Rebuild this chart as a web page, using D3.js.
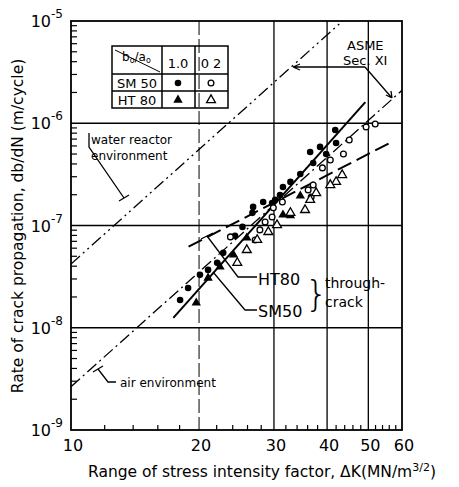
<!DOCTYPE html>
<html><head><meta charset="utf-8">
<script src="https://cdn.jsdelivr.net/npm/d3@7"></script>
<style>body{margin:0;background:#fff}svg{display:block}text{font-family:"DejaVu Sans",sans-serif;fill:#000}</style>
</head><body><svg id="c" width="459" height="487"></svg>
<script>
// ---- data ----
const xTicks = [10,20,30,40,50,60];
const xMinor = [12,14,16,18,22,24,26,28,32,34,36,38,42,44,46,48,52,54,56,58];
const yDecades = [-9,-8,-7,-6,-5];
const sm50Through = [[18.05,1.87e-8],[18.85,2.45e-8],[20.1,3.29e-8],[21.0,3.68e-8],[22.06,4.31e-8],[22.8,5.4e-8],[24.3,7.92e-8],[25.3,9.69e-8],[26.7,1.33e-7],[26.8,1.52e-7],[28.3,1.7e-7],[29.7,1.66e-7],[30.2,1.78e-7],[31.0,1.99e-7],[31.5,2.38e-7],[32.8,2.67e-7],[34.6,3.19e-7],[36.5,5.24e-7],[37.1,4.09e-7],[38.5,5.87e-7],[39.8,5.01e-7],[41.8,8.6e-7],[42.0,6.42e-7]];
const ht80Through = [[19.7,1.75e-8],[21.0,3.07e-8],[22.4,3.94e-8],[24.1,5.16e-8],[25.9,7.57e-8],[31.5,1.27e-7],[32.8,1.25e-7],[34.6,1.95e-7]];
const sm50Surface = [[51.9,9.85e-7],[49.4,9.2e-7],[45.1,6.87e-7],[43.7,5.0e-7],[40.7,4.38e-7],[39.0,3.66e-7],[37.1,2.49e-7],[36.1,2.23e-7],[36.7,1.9e-7],[31.4,1.7e-7],[29.9,1.49e-7],[29.7,1.21e-7],[28.6,1.08e-7],[27.8,9.06e-8],[27.1,7.23e-8],[23.7,7.74e-8]];
const ht80Surface = [[43.4,3.12e-7],[42.0,2.67e-7],[40.7,2.49e-7],[37.7,2.08e-7],[36.5,1.78e-7],[35.5,1.42e-7],[32.8,1.33e-7],[30.5,1.01e-7],[29.1,8.65e-8],[27.4,7.23e-8],[25.9,5.77e-8],[24.6,4.31e-8]];
const lineAir = [[10,2.65e-9],[60,2.1e-6]];
const lineWater = [[10,4.2e-8],[43.5,1e-5]];
const lineSM50 = [[17.4,1.25e-8],[49.2,1.61e-6]];
const lineHT80 = [[18.9,6.2e-8],[56.9,6.6e-7]];

// ---- scales ----
const svg = d3.select("#c");
const x = d3.scaleLog().domain([10,60]).range([71,402]);
const y = d3.scaleLog().domain([1e-9,1e-5]).range([430,21]);
const L=71,R=402,T=21,B=430;

const g = svg.append("g");
g.append("defs").append("clipPath").attr("id","clip").append("rect").attr("x",L).attr("y",T).attr("width",R-L).attr("height",B-T);

// grid
[20,30,40,50].forEach(k=>g.append("line").attr("x1",x(k)).attr("x2",x(k)).attr("y1",T).attr("y2",B).attr("stroke","#000").attr("stroke-width",k===20?1:1.3).attr("stroke-dasharray",k===20?"14,4":null));
[-8,-7,-6].forEach(d=>g.append("line").attr("x1",L).attr("x2",R).attr("y1",y(Math.pow(10,d))).attr("y2",y(Math.pow(10,d))).attr("stroke","#000").attr("stroke-width",1.4));
// frame
g.append("rect").attr("x",L).attr("y",T).attr("width",R-L).attr("height",B-T).attr("fill","none").attr("stroke","#000").attr("stroke-width",1.8);
// minor ticks
xMinor.forEach(k=>g.append("line").attr("x1",x(k)).attr("x2",x(k)).attr("y1",B).attr("y2",B-5).attr("stroke","#000").attr("stroke-width",1.2));
yDecades.slice(0,4).forEach(d=>{for(let m=2;m<=9;m++){const v=m*Math.pow(10,d);g.append("line").attr("x1",L).attr("x2",L+6).attr("y1",y(v)).attr("y2",y(v)).attr("stroke","#000").attr("stroke-width",1.2);}});
// tick labels
xTicks.forEach(k=>g.append("text").attr("x",x(k)+2).attr("y",451).attr("text-anchor","middle").attr("font-size",16).text(k));
yDecades.forEach(d=>{const t=g.append("text").attr("x",63).attr("y",y(Math.pow(10,d))+6).attr("text-anchor","end").attr("font-size",16);t.append("tspan").text("10");t.append("tspan").attr("dy",-9).attr("font-size",12).text(String(d));});

// lines
const ln = d3.line().x(d=>x(d[0])).y(d=>y(d[1]));
const lg = g.append("g").attr("clip-path","url(#clip)");
lg.append("path").attr("d",ln(lineAir)).attr("fill","none").attr("stroke","#000").attr("stroke-width",1.3).attr("stroke-dasharray","12,4,2,4");
lg.append("path").attr("d",ln(lineWater)).attr("fill","none").attr("stroke","#000").attr("stroke-width",1.3).attr("stroke-dasharray","12,4,2,4,2,4");
lg.append("path").attr("d",ln(lineSM50)).attr("fill","none").attr("stroke","#000").attr("stroke-width",2);
lg.append("path").attr("d",ln(lineHT80)).attr("fill","none").attr("stroke","#000").attr("stroke-width",2).attr("stroke-dasharray","15,6");

// points
const sym = (type,size)=>d3.symbol().type(type).size(size)();
const pg = g.append("g");
pg.selectAll(".a").data(sm50Through).join("path").attr("transform",d=>`translate(${x(d[0])},${y(d[1])})`).attr("d",sym(d3.symbolCircle,34)).attr("fill","#000");
pg.selectAll(".b").data(ht80Through).join("path").attr("transform",d=>`translate(${x(d[0])},${y(d[1])})`).attr("d",sym(d3.symbolTriangle,38)).attr("fill","#000");
pg.selectAll(".c").data(sm50Surface).join("path").attr("transform",d=>`translate(${x(d[0])},${y(d[1])})`).attr("d",sym(d3.symbolCircle,26)).attr("fill","#fff").attr("stroke","#000").attr("stroke-width",1.3);
pg.selectAll(".d").data(ht80Surface).join("path").attr("transform",d=>`translate(${x(d[0])},${y(d[1])})`).attr("d",sym(d3.symbolTriangle,34)).attr("fill","#fff").attr("stroke","#000").attr("stroke-width",1.3);

// legend table
const tb = g.append("g").attr("stroke","#000").attr("stroke-width",1.5).attr("fill","none");
tb.append("rect").attr("x",112).attr("y",46).attr("width",116).attr("height",62);
[162,195].forEach(xx=>tb.append("line").attr("x1",xx).attr("x2",xx).attr("y1",46).attr("y2",108));
[74,91].forEach(yy=>tb.append("line").attr("x1",112).attr("x2",228).attr("y1",yy).attr("y2",yy));
tb.append("line").attr("x1",115).attr("y1",50).attr("x2",160).attr("y2",72).attr("stroke-width",1);
const tt = g.append("g").attr("font-size",13);
const bt = tt.append("text").attr("x",122).attr("y",61).attr("font-size",12);
bt.append("tspan").text("b");bt.append("tspan").attr("font-size",8).attr("dy",2).text("o");bt.append("tspan").attr("dy",-2).text("/a");bt.append("tspan").attr("font-size",8).attr("dy",2).text("o");
tt.append("text").attr("x",178).attr("y",68).attr("text-anchor","middle").text("1.0");
tt.append("text").attr("x",211).attr("y",68).attr("text-anchor","middle").text("0 2");
tt.append("text").attr("x",137).attr("y",88).attr("text-anchor","middle").text("SM 50");
tt.append("text").attr("x",137).attr("y",105).attr("text-anchor","middle").text("HT 80");
g.append("path").attr("transform","translate(178,83)").attr("d",sym(d3.symbolCircle,34));
g.append("path").attr("transform","translate(211,83)").attr("d",sym(d3.symbolCircle,26)).attr("fill","#fff").attr("stroke","#000").attr("stroke-width",1.3);
g.append("path").attr("transform","translate(178,100)").attr("d",sym(d3.symbolTriangle,38));
g.append("path").attr("transform","translate(211,100)").attr("d",sym(d3.symbolTriangle,34)).attr("fill","#fff").attr("stroke","#000").attr("stroke-width",1.3);

// annotations
const ann = g.append("g").attr("fill","none").attr("stroke","#000").attr("stroke-width",1.3);
ann.append("path").attr("d","M365,67 L293,67 M293,67 l7,-3 M293,67 l7,3 M365,67 L392,98 M392,98 l-1,-7 M392,98 l-6,-3");
ann.append("path").attr("d","M89,133 L89,147 L124,198 M119,201 L129,195");
ann.append("path").attr("d","M116,382 L108,382 L98,369 M93,372 L103,366");
ann.append("path").attr("d","M257,277 L238,277 L207,236 M201,239 L213,233");
ann.append("path").attr("d","M257,310 L245,310 L213,272");
const at = g.append("g");
at.append("text").attr("x",347).attr("y",50).attr("font-size",13).text("ASME");
at.append("text").attr("x",343).attr("y",65).attr("font-size",13).text("Sec. XI");
at.append("text").attr("x",91).attr("y",144).attr("font-size",12).text("water reactor");
at.append("text").attr("x",91).attr("y",160).attr("font-size",12).text("environment");
at.append("text").attr("x",120).attr("y",387).attr("font-size",12).text("air environment");
at.append("text").attr("x",258).attr("y",285).attr("font-size",16).text("HT80");
at.append("text").attr("x",258).attr("y",317).attr("font-size",16).text("SM50");
at.append("text").attr("x",305).attr("y",306).attr("font-size",36).attr("font-weight","lighter").text("}");
at.append("text").attr("x",325).attr("y",288).attr("font-size",14).text("through-");
at.append("text").attr("x",325).attr("y",307).attr("font-size",14).text("crack");

// axis titles
g.append("text").attr("transform","translate(23,226) rotate(-90)").attr("text-anchor","middle").attr("font-size",15.5).text("Rate of crack propagation, db/dN (m/cycle)");
const xt = g.append("text").attr("x",262).attr("y",477).attr("text-anchor","middle").attr("font-size",15.5);
xt.append("tspan").text("Range of stress intensity factor, ΔK(MN/m");
xt.append("tspan").attr("dy",-6).attr("font-size",11).text("3/2");
xt.append("tspan").attr("dy",6).text(")");
</script></body></html>
